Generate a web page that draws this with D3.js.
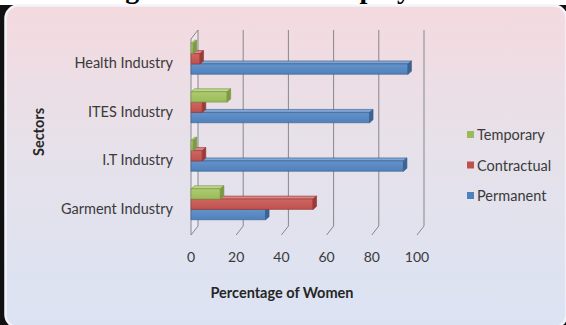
<!DOCTYPE html>
<html>
<head>
<meta charset="utf-8">
<script src="https://cdn.jsdelivr.net/npm/d3@7"></script>
<style>
  html, body { margin: 0; padding: 0; background: #fff; }
  svg { display: block; }
</style>
</head>
<body>
<svg id="chart" width="566" height="325"></svg>
<script>
// Share of women by employment type in each sector (%)
const categories = ["Health Industry", "ITES Industry", "I.T Industry", "Garment Industry"];
const seriesNames = ["Temporary", "Contractual", "Permanent"];
const temporary = [1, 16, 1, 13];
const contractual = [4, 5, 5, 54];
const permanent = [96, 79, 94, 33];
const xTicks = [0, 20, 40, 60, 80, 100];

const titleText = "Percentage of Women in Employment";
const xTitle = "Percentage of Women";
const yTitle = "Sectors";

const seriesValues = { Temporary: temporary, Contractual: contractual, Permanent: permanent };
const palette = {
  Temporary:   { front: "#9bbb59", light: "#aecb70", top: "#bcd68a", end: "#7c9a43", edge: "#76923c" },
  Contractual: { front: "#c0504d", light: "#cd6763", top: "#da8784", end: "#9a3b38", edge: "#943634" },
  Permanent:   { front: "#4f81bd", light: "#6592c9", top: "#80a6d6", end: "#3a6496", edge: "#385d8a" }
};

const W = 566, H = 325;
const svg = d3.select("#chart");
const font = "Lato, 'Open Sans', sans-serif";

// page title (sits above the chart panel)
svg.append("text")
  .attr("x", 20).attr("y", -2)
  .attr("font-family", "'Liberation Serif', 'Times New Roman', serif")
  .attr("font-weight", "bold")
  .attr("font-size", 28)
  .attr("fill", "#000")
  .text(titleText);

// panel background
const defs = svg.append("defs");
const bg = defs.append("linearGradient").attr("id", "panelBg")
  .attr("x1", 0).attr("y1", 0).attr("x2", 0).attr("y2", 1);
bg.append("stop").attr("offset", "0%").attr("stop-color", "#f4dadf");
bg.append("stop").attr("offset", "45%").attr("stop-color", "#e6e1ea");
bg.append("stop").attr("offset", "100%").attr("stop-color", "#dbe3f3");

// front-face shading for each series
seriesNames.forEach(s => {
  const g = defs.append("linearGradient").attr("id", "face-" + s)
    .attr("x1", 0).attr("y1", 0).attr("x2", 0).attr("y2", 1);
  g.append("stop").attr("offset", "0%").attr("stop-color", palette[s].light);
  g.append("stop").attr("offset", "100%").attr("stop-color", palette[s].front);
});

svg.append("rect").attr("x", 0).attr("y", 5).attr("width", W).attr("height", H - 5).attr("fill", "#111");
svg.append("rect")
  .attr("x", 5.5).attr("y", 5.5).attr("width", 561).attr("height", 322)
  .attr("rx", 13).attr("ry", 13)
  .attr("fill", "url(#panelBg)")
  .attr("stroke", "#f3f4fa").attr("stroke-width", 2.5);

// scales (front plane of the 3-D box)
const x = d3.scaleLinear().domain([0, 100]).range([191, 417]);
const y = d3.scaleBand().domain(categories).range([39, 233]);
const inner = d3.scaleBand().domain(seriesNames).range([-20, 11]);

const plotTop = 39, plotBottom = 235;
const depth = { dx: 7, dy: -9 };   // depth of the walls
const barDepth = { dx: 3.5, dy: -3 };

const grid = svg.append("g").attr("stroke", "#85878f").attr("stroke-width", 1).attr("fill", "none");

// side wall at zero
grid.append("path")
  .attr("d", d3.line()([
    [x(0), plotBottom], [x(0), plotTop],
    [x(0) + depth.dx, plotTop + depth.dy], [x(0) + depth.dx, plotBottom + depth.dy]
  ]))
  .attr("fill", "rgba(255,255,255,0.25)");

// back-wall gridlines with their floor segments
xTicks.filter(v => v > 0).forEach(v => {
  grid.append("path").attr("d", d3.line()([
    [x(v) + depth.dx, plotTop + depth.dy],
    [x(v) + depth.dx, plotBottom + depth.dy],
    [x(v), plotBottom]
  ]));
});
grid.append("path").attr("d", d3.line()([
  [x(0) + depth.dx, plotBottom + depth.dy], [x(0), plotBottom]
]));

// bars: drawn bottom series first so upper bars overlap the top faces below
const bars = svg.append("g");
categories.forEach((cat, i) => {
  const c = y(cat) + y.bandwidth() / 2;
  seriesNames.slice().reverse().forEach(s => {
    const v = seriesValues[s][i];
    const col = palette[s];
    const x0 = x(0), x1 = x(v);
    const y0 = c + inner(s), y1 = y0 + inner.bandwidth();
    const g = bars.append("g").attr("stroke", col.edge).attr("stroke-width", 0.6).attr("stroke-linejoin", "round");
    g.append("path").attr("fill", col.top).attr("d", d3.line()([
      [x0, y0], [x0 + barDepth.dx, y0 + barDepth.dy], [x1 + barDepth.dx, y0 + barDepth.dy], [x1, y0]
    ]) + "Z");
    g.append("rect").attr("fill", `url(#face-${s})`)
      .attr("x", x0).attr("y", y0).attr("width", x1 - x0).attr("height", y1 - y0);
    g.append("path").attr("fill", col.end).attr("d", d3.line()([
      [x1, y0], [x1 + barDepth.dx, y0 + barDepth.dy], [x1 + barDepth.dx, y1 + barDepth.dy], [x1, y1]
    ]) + "Z");
  });
});

// value axis labels
svg.append("g").selectAll("text").data(xTicks).join("text")
  .attr("x", d => x(d)).attr("y", 262)
  .attr("text-anchor", "middle")
  .attr("font-family", font).attr("font-size", 14)
  .attr("fill", "#3a3a3a")
  .text(d => d);

// category labels
svg.append("g").selectAll("text").data(categories).join("text")
  .attr("x", 173).attr("y", d => y(d) + y.bandwidth() / 2 + 5)
  .attr("text-anchor", "end")
  .attr("font-family", font).attr("font-size", 14.5)
  .attr("fill", "#3a3a3a")
  .text(d => d);

// axis titles
svg.append("text")
  .attr("x", 282).attr("y", 298)
  .attr("text-anchor", "middle")
  .attr("font-family", font).attr("font-weight", "bold").attr("font-size", 14.5)
  .attr("fill", "#262626")
  .text(xTitle);

svg.append("text")
  .attr("transform", "translate(44,132) rotate(-90)")
  .attr("text-anchor", "middle")
  .attr("font-family", font).attr("font-weight", "bold").attr("font-size", 14.5)
  .attr("fill", "#262626")
  .text(yTitle);

// legend
const legend = svg.append("g");
seriesNames.forEach((s, i) => {
  const ly = 135 + i * 30.5;
  legend.append("rect")
    .attr("x", 467).attr("y", ly - 4).attr("width", 7).attr("height", 7)
    .attr("fill", palette[s].front);
  legend.append("text")
    .attr("x", 477).attr("y", ly + 5)
    .attr("font-family", font).attr("font-size", 14.5)
    .attr("fill", "#3a3a3a")
    .text(s);
});
</script>
</body>
</html>
